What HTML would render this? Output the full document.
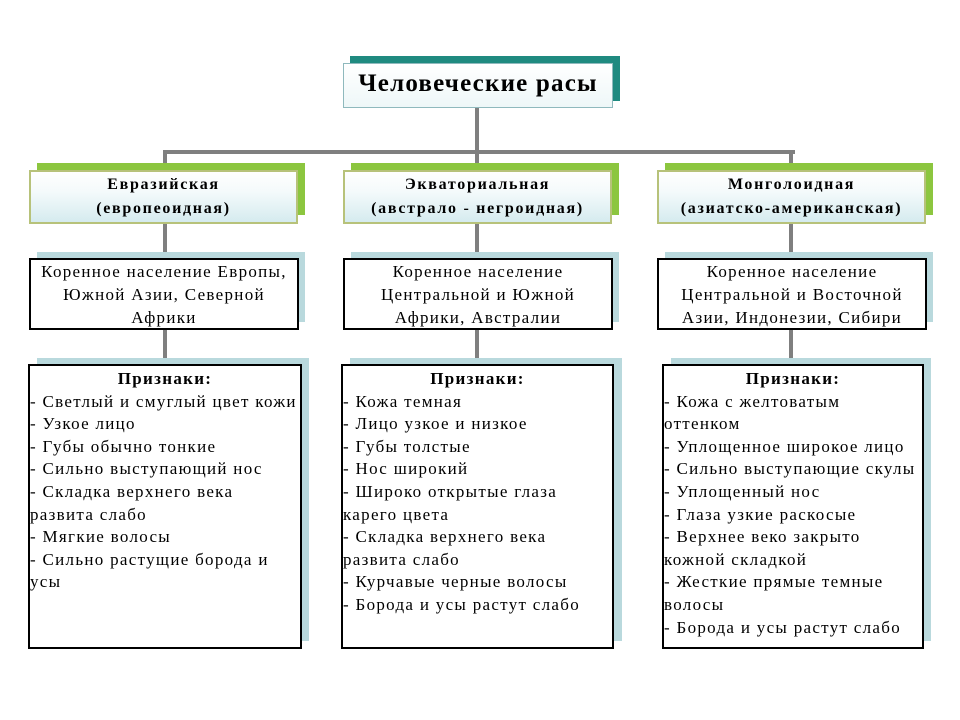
<!DOCTYPE html>
<html><head><meta charset="utf-8"><style>
body{margin:0;width:960px;height:720px;background:#fff;position:relative;overflow:hidden;font-family:"Liberation Serif","DejaVu Serif",serif;color:#000}
div{position:absolute;box-sizing:border-box}
.ln{background:#7f7f7f}
.g{background:#8cc63f}
.sh{background:#b9d9dd}
.l1{border:2px solid #b7c27a;background:linear-gradient(#fff 0%,#f4fafb 40%,#d5ebef 100%);text-align:center;font-weight:bold;font-size:16px;letter-spacing:1.7px;line-height:24px;padding-top:1px;white-space:nowrap}
.l2{border:2px solid #000;background:#fff;text-align:center;font-size:17px;letter-spacing:1.3px;line-height:23px;padding-top:0;white-space:nowrap}
.l3{border:2px solid #000;background:#fff;font-size:17px;letter-spacing:1.3px;line-height:22.6px;padding:2px 0 0 0;white-space:nowrap}
.l3 b{display:block;text-align:center}
</style></head><body>
<div class="ln" style="left:475px;top:105px;width:4px;height:50px"></div>
<div class="ln" style="left:163px;top:150px;width:632px;height:4px"></div>
<div class="ln" style="left:163px;top:150px;width:4px;height:25px"></div>
<div class="ln" style="left:475px;top:150px;width:4px;height:25px"></div>
<div class="ln" style="left:789px;top:150px;width:4px;height:25px"></div>
<div class="ln" style="left:163px;top:220px;width:4px;height:40px"></div>
<div class="ln" style="left:475px;top:220px;width:4px;height:40px"></div>
<div class="ln" style="left:789px;top:220px;width:4px;height:40px"></div>
<div class="ln" style="left:163px;top:327px;width:4px;height:40px"></div>
<div class="ln" style="left:475px;top:327px;width:4px;height:40px"></div>
<div class="ln" style="left:789px;top:327px;width:4px;height:40px"></div>

<div style="left:350px;top:56px;width:270px;height:45px;background:#1f8a80"></div>
<div style="left:343px;top:63px;width:270px;height:45px;border:1px solid #8fb9bd;background:linear-gradient(#fff,#eef7f8);text-align:center;font-weight:bold;font-size:25px;letter-spacing:1.2px;line-height:40px;white-space:nowrap">Человеческие расы</div>

<div class="g" style="left:37px;top:163px;width:268px;height:52px"></div>
<div class="l1" style="left:29px;top:170px;width:269px;height:54px">Евразийская<br>(европеоидная)</div>
<div class="g" style="left:351px;top:163px;width:268px;height:52px"></div>
<div class="l1" style="left:343px;top:170px;width:269px;height:54px">Экваториальная<br>(австрало - негроидная)</div>
<div class="g" style="left:665px;top:163px;width:268px;height:52px"></div>
<div class="l1" style="left:657px;top:170px;width:269px;height:54px">Монголоидная<br>(азиатско-американская)</div>

<div class="sh" style="left:37px;top:252px;width:268px;height:70px"></div>
<div class="l2" style="left:29px;top:258px;width:270px;height:72px">Коренное население Европы,<br>Южной Азии, Северной<br>Африки</div>
<div class="sh" style="left:351px;top:252px;width:268px;height:70px"></div>
<div class="l2" style="left:343px;top:258px;width:270px;height:72px">Коренное население<br>Центральной и Южной<br>Африки, Австралии</div>
<div class="sh" style="left:665px;top:252px;width:268px;height:70px"></div>
<div class="l2" style="left:657px;top:258px;width:270px;height:72px">Коренное население<br>Центральной и Восточной<br>Азии, Индонезии, Сибири</div>

<div class="sh" style="left:37px;top:358px;width:272px;height:283px"></div>
<div class="l3" style="left:28px;top:364px;width:274px;height:285px"><b>Признаки:</b>- Светлый и смуглый цвет кожи<br>- Узкое лицо<br>- Губы обычно тонкие<br>- Сильно выступающий нос<br>- Складка верхнего века<br>развита слабо<br>- Мягкие волосы<br>- Сильно растущие борода и<br>усы</div>
<div class="sh" style="left:350px;top:358px;width:272px;height:283px"></div>
<div class="l3" style="left:341px;top:364px;width:273px;height:285px"><b>Признаки:</b>- Кожа темная<br>- Лицо узкое и низкое<br>- Губы толстые<br>- Нос широкий<br>- Широко открытые глаза<br>карего цвета<br>- Складка верхнего века<br>развита слабо<br>- Курчавые черные волосы<br>- Борода и усы растут слабо</div>
<div class="sh" style="left:671px;top:358px;width:260px;height:283px"></div>
<div class="l3" style="left:662px;top:364px;width:262px;height:285px"><b>Признаки:</b>- Кожа с желтоватым<br>оттенком<br>- Уплощенное широкое лицо<br>- Сильно выступающие скулы<br>- Уплощенный нос<br>- Глаза узкие раскосые<br>- Верхнее веко закрыто<br>кожной складкой<br>- Жесткие прямые темные<br>волосы<br>- Борода и усы растут слабо</div>
</body></html>
